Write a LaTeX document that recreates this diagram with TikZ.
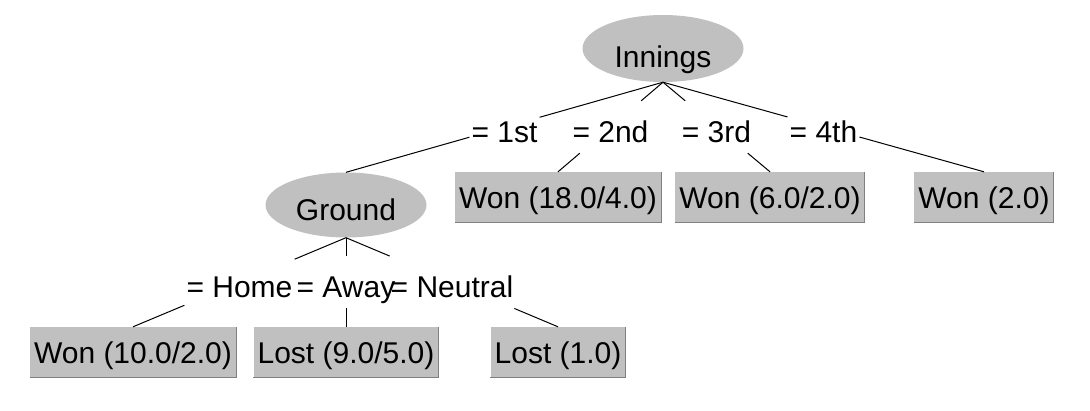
\documentclass[tikz,border=0pt]{standalone}
\usepackage{fontspec}
\setmainfont{Liberation Sans}
\usetikzlibrary{shapes.geometric}
\definecolor{nodegrey}{HTML}{C0C0C0}
\definecolor{rimgrey}{HTML}{808080}
\newcommand{\treefont}{\fontsize{30pt}{36pt}\selectfont}
\tikzset{
	attr/.style={ellipse, fill=nodegrey, minimum width=161pt, minimum height=65pt, inner sep=0pt, text height=33pt, text depth=0pt},
	leaf/.style={rectangle, fill=nodegrey, minimum height=50pt, inner xsep=4pt, inner ysep=0pt, text height=25pt, text depth=2pt},
	branch/.style={inner xsep=2pt, inner ysep=0pt, text height=41pt, text depth=11pt},
	link/.style={draw=black, line width=1pt},
	rim/.style={draw=rimgrey, line width=1pt}
}

\begin{document}
\begin{tikzpicture}[x=1pt, y=-1pt, every node/.style={font=\treefont}]
				
	\useasboundingbox (0,0) rectangle (1090,410);
	
	\node[attr, minimum height=67pt, text height=37pt] (innings) at (663,48.5) {Innings};
	\node[attr, text height=31pt] (ground) at (346,205) {Ground};
	
	\node[leaf] (won18) at (558,197) {Won (18.0/4.0)};
	\node[leaf] (won6) at (770,197) {Won (6.0/2.0)};
	\node[leaf] (won2) at (984,197) {Won (2.0)};
	\node[leaf] (won10) at (133,352) {Won (10.0/2.0)};
	\node[leaf] (lost9) at (346,352) {Lost (9.0/5.0)};
	\node[leaf] (lost1) at (558,352) {Lost (1.0)};
	
	\foreach \n in {won18,won6,won2,won10,lost9,lost1}
		\draw[rim] (\n.north east) -- (\n.south east) -- (\n.south west);
	
	\path (innings.south) -- node[branch] (first) {= 1st} (ground.north);
	\path (innings.south) -- node[branch] (second) {= 2nd} (won18.north);
	\path (innings.south) -- node[branch] (third) {= 3rd} (won6.north);
	\path (innings.south) -- node[branch] (fourth) {= 4th} (won2.north);
	
	\path (ground.south) -- node[branch] (home) {= Home} (won10.north);
	\path (ground.south) -- node[branch] (away) {= Away} (lost9.north);
	\path (ground.south) -- node[branch] (neutral) {= Neutral} (lost1.north);
	
	\draw[link] (innings.south) -- (first) -- (ground.north);
	\draw[link] (innings.south) -- (second) -- (won18.north);
	\draw[link] (innings.south) -- (third) -- (won6.north);
	\draw[link] (innings.south) -- (fourth) -- (won2.north);
	
	\draw[link] (ground.south) -- (home) -- (won10.north);
	\draw[link] (ground.south) -- (away) -- (lost9.north);
	\draw[link] (ground.south) -- (neutral) -- (lost1.north);
					
\end{tikzpicture}
\end{document}
